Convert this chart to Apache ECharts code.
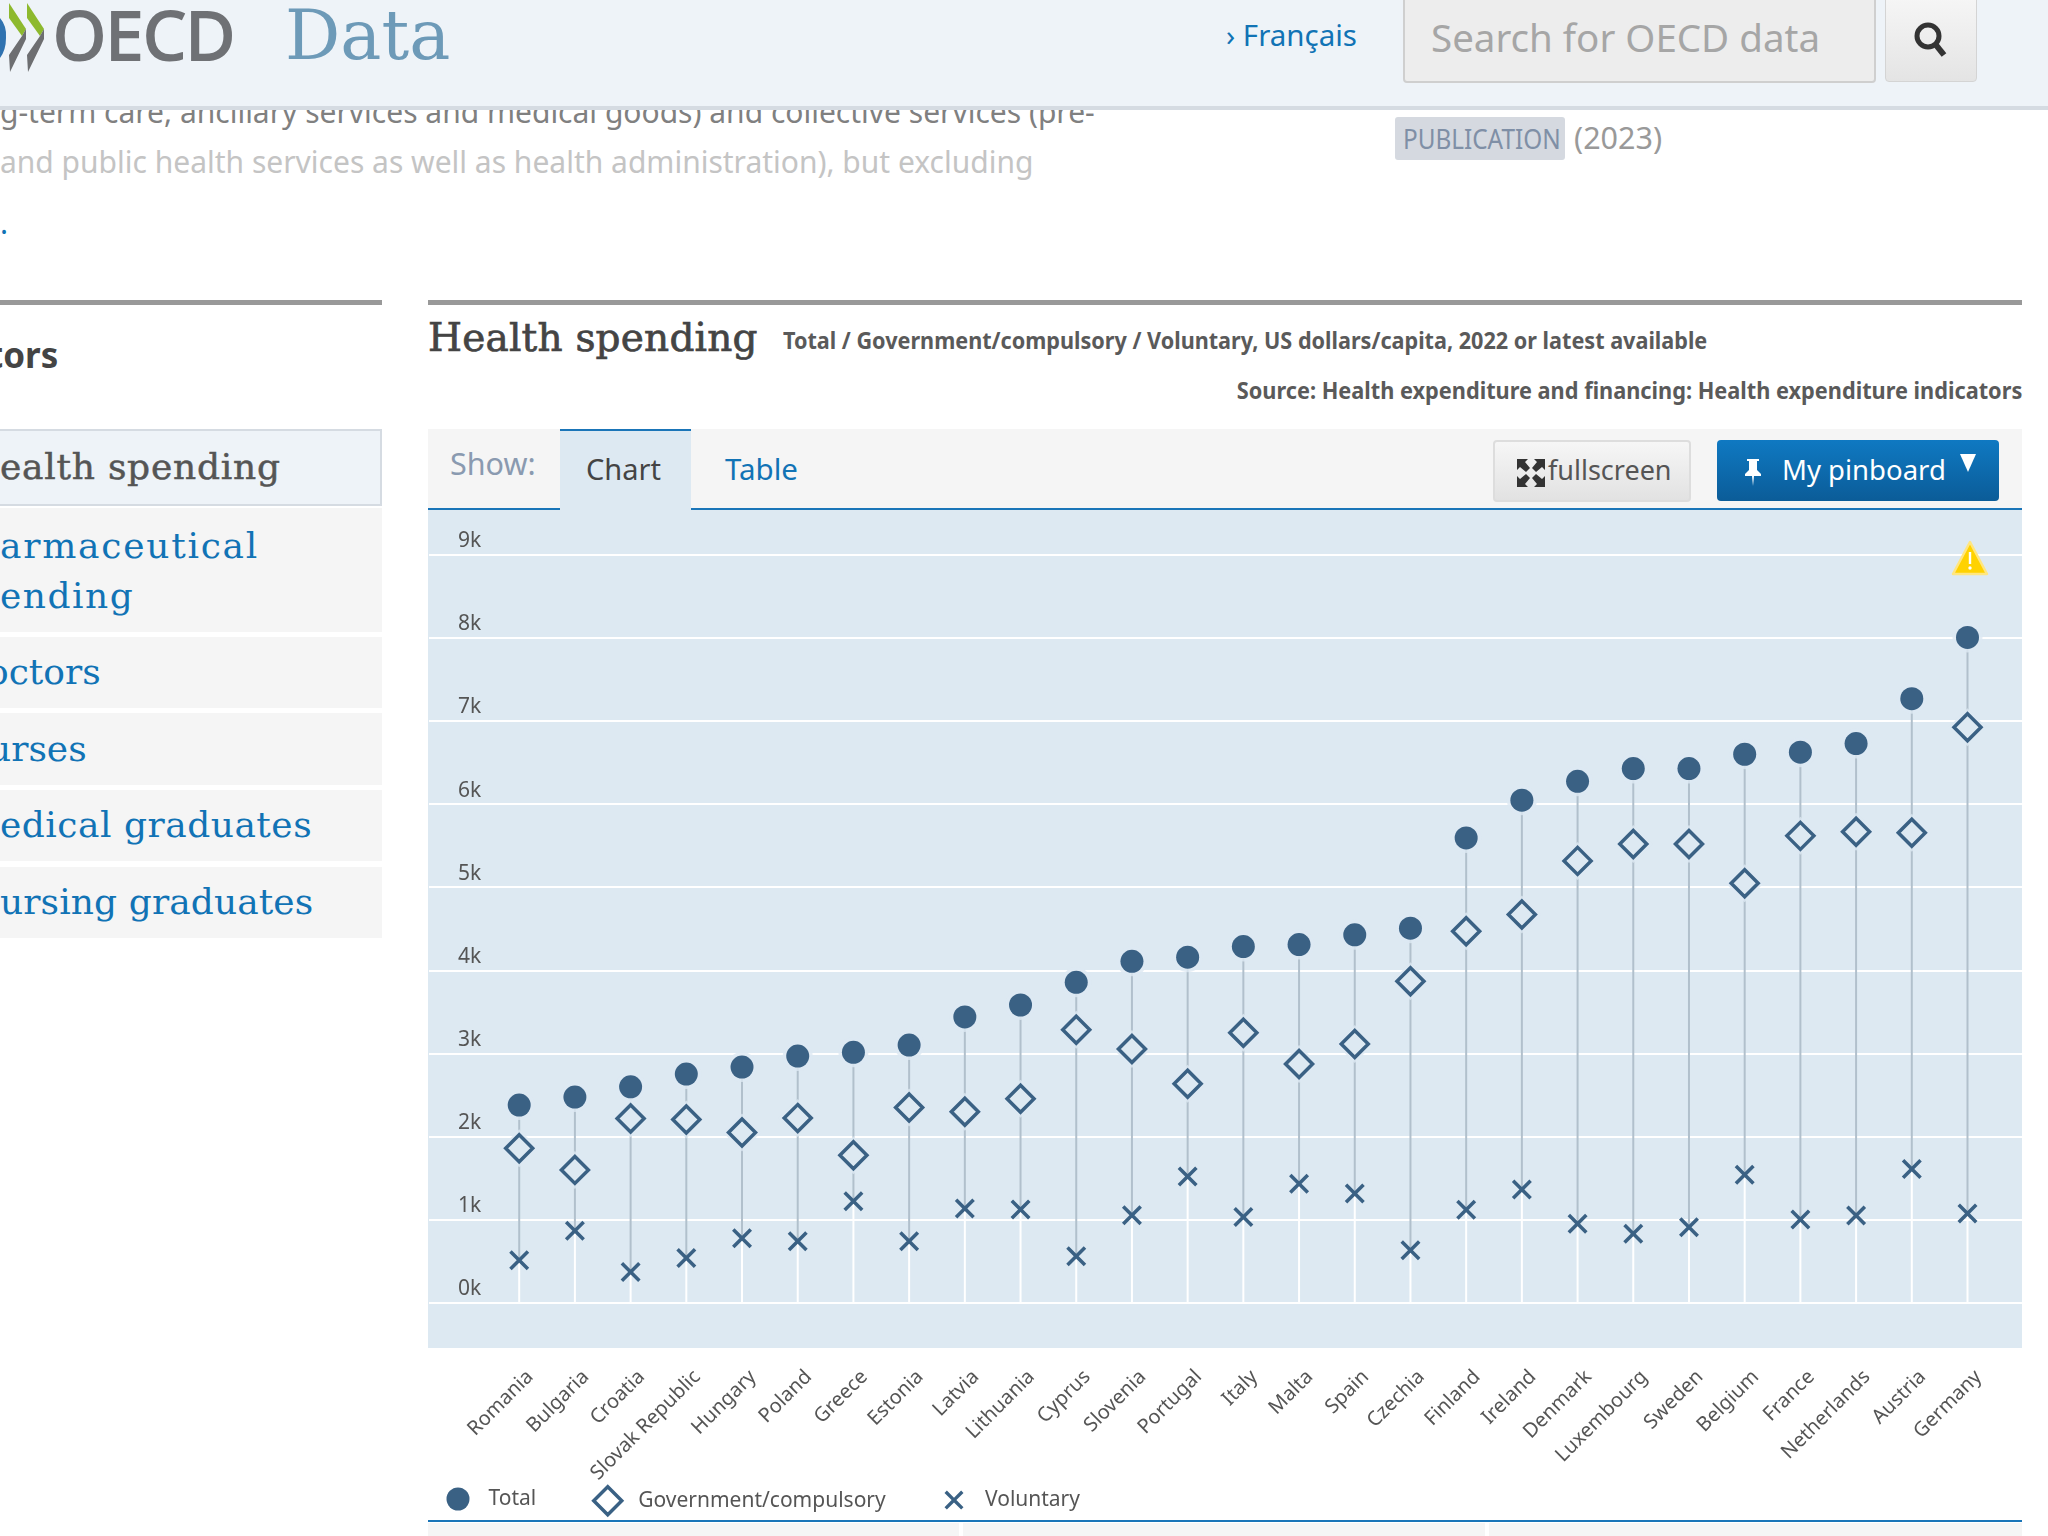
<!DOCTYPE html>
<html>
<head>
<meta charset="utf-8">
<title>OECD Data - Health spending</title>
<script src="https://cdn.jsdelivr.net/npm/echarts@6/dist/echarts.min.js"></script>
<style>
html, body { margin: 0; padding: 0; background: #fff; width: 2048px; height: 1536px; overflow: hidden; }
body { font-family: "Noto Sans", sans-serif; position: relative; }
.abs { position: absolute; white-space: nowrap; line-height: 1; }
.box { position: absolute; }
.serif { font-family: "DejaVu Serif", serif; }
#liter_echart { position: absolute; left: 0; top: 0; width: 2048px; height: 1536px; }
</style>
</head>
<body>
<!-- page text behind the header -->
<div class="abs" style="left:0;top:97px;font-size:30px;color:#808080">g-term care, ancillary services and medical goods) and collective services (pre-</div>
<div class="abs" style="left:0;top:147px;font-size:30px;color:#c4c4c4">and public health services as well as health administration), but excluding</div>
<div class="abs" style="left:0;top:208px;font-size:30px;color:#1173b5">.</div>

<!-- header -->
<div class="box" style="left:0;top:0;width:2048px;height:106px;background:#eef3f8;border-bottom:4px solid #d5dbe2"></div>
<svg class="box" style="left:0;top:0" width="50" height="76" viewBox="0 0 50 76">
  <path d="M0 18 Q7 26 6 38 Q6 50 0 58 Z" fill="#2f72b0"/>
  <path d="M9 3 L26 29 L22 36 L9 18 Z" fill="#8db92e"/>
  <path d="M27 3 L44 29 L40 36 L27 18 Z" fill="#8db92e"/>
  <path d="M22 36 L26 29 L26 39 L10 72 L9 55 Z" fill="#6d6e71"/>
  <path d="M40 36 L44 29 L44 39 L28 72 L27 55 Z" fill="#6d6e71"/>
</svg>
<div class="abs" style="left:53px;top:0;font-size:68px;color:#6f7175;letter-spacing:-0.5px;-webkit-text-stroke:2px #6f7175">OECD</div>
<div class="abs serif" style="left:285px;top:1px;font-size:69px;color:#6d9ab8">Data</div>
<div class="abs" style="left:1226px;top:20px;font-size:29.5px;color:#1173b5">› Français</div>
<div class="box" style="left:1403px;top:-4px;width:469px;height:83px;background:#ededed;border:2px solid #cfcfcf;border-radius:4px"></div>
<div class="abs" style="left:1431px;top:18px;font-size:38.5px;color:#a6a6a6">Search for OECD data</div>
<div class="box" style="left:1885px;top:-4px;width:90px;height:84px;background:linear-gradient(#f6f6f6,#e4e4e4);border:1px solid #d4d4d4;border-radius:4px"></div>
<svg class="box" style="left:1912px;top:20px" width="38" height="38" viewBox="0 0 38 38">
  <circle cx="16" cy="16" r="11" fill="none" stroke="#333" stroke-width="5"/>
  <line x1="24" y1="25" x2="32" y2="35" stroke="#333" stroke-width="6"/>
</svg>
<div class="box" style="left:1395px;top:117px;width:170px;height:43px;background:#d5d9e0;border-radius:3px"></div>
<div class="abs" style="left:1403px;top:125px;font-size:27px;color:#7f8fa6;transform:scaleX(0.9);transform-origin:left">PUBLICATION</div>
<div class="abs" style="left:1574px;top:122px;font-size:30.5px;color:#999">(2023)</div>

<!-- section rules and headings -->
<div class="box" style="left:0;top:300px;width:382px;height:5px;background:#999"></div>
<div class="box" style="left:428px;top:300px;width:1594px;height:5px;background:#999"></div>
<div class="abs" style="left:-12px;top:337px;font-size:35px;font-weight:700;color:#444">tors</div>
<div class="abs serif" style="left:428px;top:318px;font-size:39px;letter-spacing:0.2px;color:#444;-webkit-text-stroke:0.7px #444">Health spending</div>
<div class="abs" style="left:783px;top:329px;font-size:23px;font-weight:700;color:#5a5a5a;transform:scaleX(0.94);transform-origin:left">Total / Government/compulsory / Voluntary, US dollars/capita, 2022 or latest available</div>
<div class="abs" style="right:26px;top:379px;font-size:23px;font-weight:700;color:#5a5a5a;transform:scaleX(0.945);transform-origin:right">Source: Health expenditure and financing: Health expenditure indicators</div>

<!-- side menu -->
<div class="box" style="left:0;top:429px;width:380px;height:73px;background:#eef3f8;border:2px solid #d5dbe2;border-left:0"></div>
<div class="abs serif" style="left:0;top:449px;font-size:36px;letter-spacing:0.75px;color:#555;-webkit-text-stroke:0.5px #555">ealth spending</div>
<div class="box" style="left:0;top:508px;width:382px;height:124px;background:#f5f5f5"></div>
<div class="abs serif" style="left:0;top:528px;font-size:36px;letter-spacing:1.75px;color:#1173b5">armaceutical</div>
<div class="abs serif" style="left:0;top:578px;font-size:36px;letter-spacing:1.5px;color:#1173b5">ending</div>
<div class="box" style="left:0;top:637px;width:382px;height:71px;background:#f5f5f5"></div>
<div class="abs serif" style="left:-13px;top:654px;font-size:36px;color:#1173b5">octors</div>
<div class="box" style="left:0;top:713px;width:382px;height:72px;background:#f5f5f5"></div>
<div class="abs serif" style="left:-12px;top:731px;font-size:36px;color:#1173b5">urses</div>
<div class="box" style="left:0;top:790px;width:382px;height:71px;background:#f5f5f5"></div>
<div class="abs serif" style="left:0;top:807px;font-size:36px;letter-spacing:0.5px;color:#1173b5">edical graduates</div>
<div class="box" style="left:0;top:867px;width:382px;height:71px;background:#f5f5f5"></div>
<div class="abs serif" style="left:0;top:884px;font-size:36px;letter-spacing:0.1px;color:#1173b5">ursing graduates</div>

<!-- tab bar -->
<div class="box" style="left:428px;top:429px;width:1594px;height:79px;background:#f5f5f5"></div>
<div class="box" style="left:428px;top:508px;width:1594px;height:2px;background:#1a75b8"></div>
<div class="box" style="left:560px;top:429px;width:131px;height:81px;background:#dde9f2;border-top:2px solid #1a75b8;box-sizing:border-box"></div>
<div class="abs" style="left:450px;top:448px;font-size:30.5px;color:#8a9ab0">Show:</div>
<div class="abs" style="left:586px;top:454px;font-size:29px;color:#444">Chart</div>
<div class="abs" style="left:725px;top:454px;font-size:29.5px;color:#1173b5">Table</div>
<div class="box" style="left:1493px;top:440px;width:194px;height:58px;background:linear-gradient(#f6f6f6,#e2e2e2);border:2px solid #ddd;border-radius:4px"></div>
<svg class="box" style="left:1516px;top:458px" width="30" height="30" viewBox="0 0 30 30" fill="#333">
  <path d="M1 1 H12 L9 4 L14 10 L10 14 L4 9 L1 12 Z"/>
  <path d="M29 1 H18 L21 4 L16 10 L20 14 L26 9 L29 12 Z"/>
  <path d="M1 29 H12 L9 26 L14 20 L10 16 L4 21 L1 18 Z"/>
  <path d="M29 29 H18 L21 26 L16 20 L20 16 L26 21 L29 18 Z"/>
</svg>
<div class="abs" style="left:1548px;top:456px;font-size:27px;color:#555">fullscreen</div>
<div class="box" style="left:1717px;top:440px;width:282px;height:61px;background:linear-gradient(#0f79c2,#0b5c98);border-radius:4px"></div>
<svg class="box" style="left:1743px;top:458px" width="20" height="28" viewBox="0 0 20 28" fill="#fff">
  <path d="M4 1 H16 V3 H14 V12 L18 16 V18 H11 L10 28 L9 18 H2 V16 L6 12 V3 H4 Z"/>
</svg>
<div class="abs" style="left:1782px;top:456px;font-size:27.5px;color:#fff">My pinboard</div>
<svg class="box" style="left:1960px;top:454px" width="16" height="18" viewBox="0 0 16 18"><path d="M0 0 H16 L8 18 Z" fill="#fff"/></svg>

<!-- plot panel, the chart sits on top of it -->
<div class="box" style="left:428px;top:510px;width:1594px;height:838px;background:#dde9f2"></div>

<!-- bottom rule and panels -->
<div class="box" style="left:428px;top:1520px;width:1594px;height:2px;background:#1a75b8"></div>
<div class="box" style="left:428px;top:1523px;width:531px;height:13px;background:#f5f5f5"></div>
<div class="box" style="left:963px;top:1523px;width:522px;height:13px;background:#f5f5f5"></div>
<div class="box" style="left:1489px;top:1523px;width:533px;height:13px;background:#f5f5f5"></div>

<div id="liter_echart"></div>

<!-- warning icon -->
<svg class="box" style="left:1951px;top:540px" width="38" height="36" viewBox="0 0 38 36">
  <path d="M19 2 L36 34 H2 Z" fill="#ffd200" stroke="#ffe680" stroke-width="2.5" stroke-linejoin="round"/>
  <rect x="17.8" y="12" width="2.4" height="12" fill="#fff"/>
  <circle cx="19" cy="28" r="1.7" fill="#fff"/>
</svg>

<script>
var categories = ['Romania', 'Bulgaria', 'Croatia', 'Slovak Republic', 'Hungary', 'Poland', 'Greece', 'Estonia', 'Latvia',
    'Lithuania', 'Cyprus', 'Slovenia', 'Portugal', 'Italy', 'Malta', 'Spain', 'Czechia', 'Finland', 'Ireland', 'Denmark',
    'Luxembourg', 'Sweden', 'Belgium', 'France', 'Netherlands', 'Austria', 'Germany'];
var totalValues = [2378, 2474, 2598, 2751, 2835, 2968, 3012, 3100, 3438, 3582, 3855, 4108, 4157, 4285, 4309, 4426, 4506,
    5592, 6047, 6274, 6427, 6427, 6599, 6624, 6728, 7268, 8005];
var governmentValues = [1859, 1598, 2217, 2205, 2048, 2221, 1775, 2349, 2297, 2454, 3285, 3052, 2635, 3247, 2873, 3112, 3867,
    4469, 4672, 5316, 5519, 5519, 5046, 5617, 5666, 5654, 6925];
var voluntaryValues = [510, 867, 369, 538, 775, 739, 1221, 739, 1133, 1120, 558, 1052, 1518, 1031, 1430, 1314, 632,
    1117, 1363, 951, 829, 909, 1541, 1001, 1050, 1608, 1074];

var markColor = '#3a6184';
var panelColor = '#dde9f2';
var textColor = '#555';
var crossPath = 'path://M2.5 0 L10 7.5 L17.5 0 L20 2.5 L12.5 10 L20 17.5 L17.5 20 L10 12.5 L2.5 20 L0 17.5 L7.5 10 L0 2.5 Z';

// stem of each country: white from zero to the lowest mark, grey from there to the highest
var stemData = [];
for (var i = 0; i < categories.length; i++) {
    stemData.push([i, voluntaryValues[i], totalValues[i]]);
}

function renderStem(params, api) {
    var base = api.coord([api.value(0), 0]);
    var low = api.coord([api.value(0), api.value(1)]);
    var high = api.coord([api.value(0), api.value(2)]);
    return {
        type: 'group',
        children: [{
            type: 'line',
            shape: { x1: base[0], y1: base[1], x2: low[0], y2: low[1] },
            style: { stroke: '#ffffff', lineWidth: 2 }
        }, {
            type: 'line',
            shape: { x1: low[0], y1: low[1], x2: high[0], y2: high[1] },
            style: { stroke: '#b1c0cc', lineWidth: 2 }
        }]
    };
}

var myChart = echarts.init(document.getElementById('liter_echart'));
var Option = {
    animation: false,
    backgroundColor: 'transparent',
    textStyle: { fontFamily: '"Noto Sans", sans-serif' },
    // first grid carries the full width gridlines, second one the countries
    grid: [
        { left: 429, top: 554.7, width: 1593, height: 748 },
        { left: 491.35, top: 554.7, width: 1504, height: 748 }
    ],
    xAxis: [{
        gridIndex: 0,
        type: 'category',
        data: categories,
        show: false
    }, {
        gridIndex: 1,
        type: 'category',
        data: categories,
        axisLine: { show: false },
        axisTick: { show: false },
        axisLabel: {
            interval: 0,
            rotate: 45,
            margin: 60,
            verticalAlign: 'top',
            lineHeight: 31,
            fontSize: 20,
            color: textColor
        }
    }],
    yAxis: [{
        gridIndex: 0,
        type: 'value',
        min: 0,
        max: 9000,
        interval: 1000,
        axisLine: { show: false },
        axisTick: { show: false },
        splitLine: { lineStyle: { color: '#ffffff', width: 2 } },
        axisLabel: {
            inside: true,
            margin: 29,
            align: 'left',
            verticalAlign: 'bottom',
            padding: [0, 0, 3, 0],
            fontSize: 21,
            color: textColor,
            formatter: function (value) { return (value / 1000) + 'k'; }
        }
    }, {
        gridIndex: 1,
        type: 'value',
        min: 0,
        max: 9000,
        interval: 1000,
        show: false
    }],
    legend: [{
        data: ['Total'],
        left: 441.5, top: 1482.5,
        itemWidth: 23, itemHeight: 23,
        icon: 'circle',
        textStyle: { fontSize: 21, color: textColor, padding: [3, 0, 0, 14] }
    }, {
        data: ['Government/compulsory'],
        left: 587, top: 1480,
        itemWidth: 28, itemHeight: 28,
        icon: 'diamond',
        itemStyle: { color: '#ffffff', borderWidth: 3.5 },
        textStyle: { fontSize: 21, color: textColor, padding: [3, 0, 0, 11.5] }
    }, {
        data: ['Voluntary'],
        left: 939.5, top: 1484.5,
        itemWidth: 19, itemHeight: 19,
        icon: crossPath,
        textStyle: { fontSize: 21, color: textColor, padding: [3, 0, 0, 16.5] }
    }],
    series: [{
        type: 'custom',
        xAxisIndex: 1,
        yAxisIndex: 1,
        z: 1,
        silent: true,
        data: stemData,
        encode: { x: 0, y: [1, 2] },
        renderItem: renderStem
    }, {
        // panel coloured halos, they break the stems around the marks
        type: 'scatter',
        name: 'halo-total',
        xAxisIndex: 1,
        yAxisIndex: 1,
        z: 2,
        symbol: 'circle',
        symbolSize: 30,
        itemStyle: { color: panelColor },
        data: totalValues
    }, {
        type: 'scatter',
        name: 'halo-government',
        xAxisIndex: 1,
        yAxisIndex: 1,
        z: 2,
        symbol: 'diamond',
        symbolSize: 38,
        itemStyle: { color: panelColor },
        data: governmentValues
    }, {
        type: 'scatter',
        name: 'Total',
        xAxisIndex: 1,
        yAxisIndex: 1,
        z: 4,
        symbol: 'circle',
        symbolSize: 23,
        itemStyle: { color: markColor, opacity: 1 },
        data: totalValues
    }, {
        type: 'scatter',
        name: 'Government/compulsory',
        xAxisIndex: 1,
        yAxisIndex: 1,
        z: 3,
        symbol: 'diamond',
        symbolSize: 27,
        itemStyle: { color: panelColor, borderColor: markColor, borderWidth: 3.5, opacity: 1 },
        data: governmentValues
    }, {
        type: 'scatter',
        name: 'Voluntary',
        xAxisIndex: 1,
        yAxisIndex: 1,
        z: 3,
        symbol: crossPath,
        symbolSize: 20,
        itemStyle: { color: markColor, opacity: 1 },
        data: voluntaryValues
    }]
};
myChart.setOption(Option);
</script>
</body>
</html>
